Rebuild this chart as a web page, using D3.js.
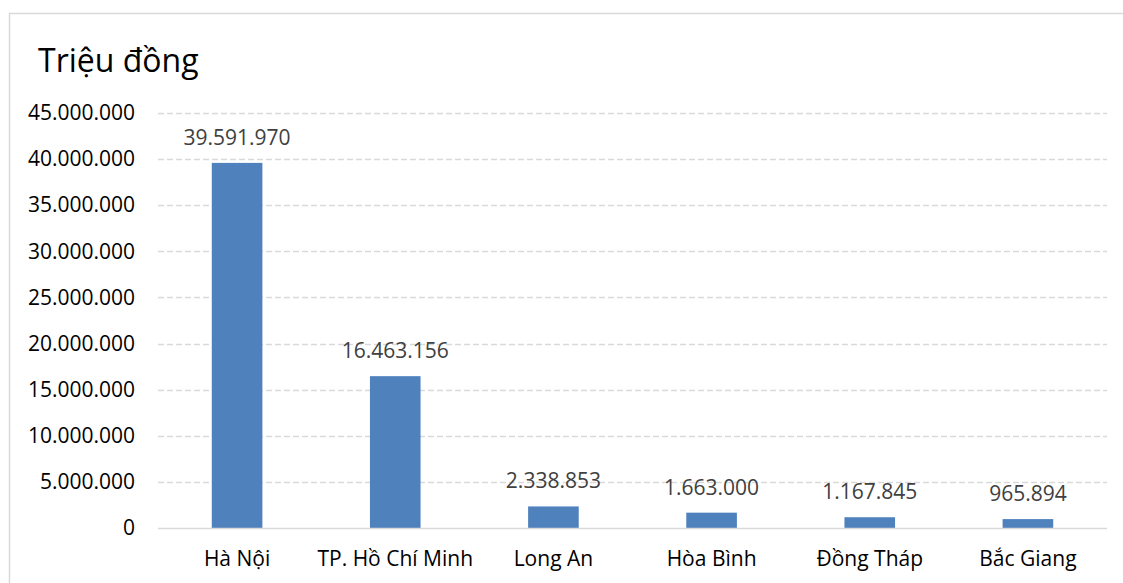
<!DOCTYPE html>
<html>
<head>
<meta charset="utf-8">
<script src="https://cdn.jsdelivr.net/npm/d3@7"></script>
<style>
  body { margin: 0; background: #fff; }
  text { font-family: "Open Sans", "Noto Sans", sans-serif; }
</style>
</head>
<body>
<div id="chart"></div>
<script>
// du lieu doc tu hinh
const provinces = ["Hà Nội", "TP. Hồ Chí Minh", "Long An", "Hòa Bình", "Đồng Tháp", "Bắc Giang"];
const amounts = [39591970, 16463156, 2338853, 1663000, 1167845, 965894];
const yTicks = [0, 5000000, 10000000, 15000000, 20000000, 25000000, 30000000, 35000000, 40000000, 45000000];
const unitTitle = "Triệu đồng";

const width = 1123,
  height = 583;
const margin = { left: 158, right: 16, top: 113, bottom: 55 };
const fs = 21;

const fmt = (v) => d3.format(",")(v).replace(/,/g, ".");

const svg = d3
  .select("#chart")
  .append("svg")
  .attr("width", width)
  .attr("height", height);

// khung ngoai
svg
  .append("rect")
  .attr("x", 9.5)
  .attr("y", 13.5)
  .attr("width", width)
  .attr("height", height)
  .attr("fill", "none")
  .attr("stroke", "#d9d9d9")
  .attr("stroke-width", 1.5);

const x = d3
  .scaleBand()
  .domain(provinces)
  .range([margin.left, width - margin.right])
  .paddingInner(0.68)
  .paddingOuter(0.34);

const y = d3
  .scaleLinear()
  .domain([0, 45000000])
  .range([height - margin.bottom, margin.top]);

// luoi ngang
svg
  .selectAll(".grid")
  .data(yTicks.filter((d) => d > 0))
  .enter()
  .append("line")
  .attr("class", "grid")
  .attr("x1", margin.left)
  .attr("x2", width - margin.right)
  .attr("y1", (d) => Math.round(y(d)) + 0.5)
  .attr("y2", (d) => Math.round(y(d)) + 0.5)
  .attr("stroke", "#d9d9d9")
  .attr("stroke-width", 1.3)
  .attr("stroke-dasharray", "6,3");

// truc y
const yAxis = svg
  .append("g")
  .attr("transform", `translate(${margin.left - 23},0)`)
  .call(d3.axisLeft(y).tickValues(yTicks).tickFormat(fmt).tickSize(0).tickPadding(0));
yAxis.select(".domain").remove();
yAxis
  .selectAll("text")
  .attr("font-size", fs)
  .attr("fill", "#000")
  .style("font-family", '"Open Sans", "Noto Sans", sans-serif');

// cot
svg
  .selectAll(".bar")
  .data(amounts)
  .enter()
  .append("rect")
  .attr("class", "bar")
  .attr("x", (d, i) => x(provinces[i]))
  .attr("y", (d) => y(d))
  .attr("width", x.bandwidth())
  .attr("height", (d) => y(0) - y(d))
  .attr("fill", "#4f81bd");

// truc 0
svg
  .append("line")
  .attr("x1", margin.left)
  .attr("x2", width - margin.right)
  .attr("y1", Math.round(y(0)) + 0.5)
  .attr("y2", Math.round(y(0)) + 0.5)
  .attr("stroke", "#d9d9d9")
  .attr("stroke-width", 1.5);

// nhan gia tri
svg
  .selectAll(".val")
  .data(amounts)
  .enter()
  .append("text")
  .attr("class", "val")
  .attr("x", (d, i) => x(provinces[i]) + x.bandwidth() / 2)
  .attr("y", (d) => y(d) - 18)
  .attr("text-anchor", "middle")
  .attr("font-size", fs)
  .attr("fill", "#404040")
  .text(fmt);

// truc x
svg
  .selectAll(".cat")
  .data(provinces)
  .enter()
  .append("text")
  .attr("class", "cat")
  .attr("x", (d) => x(d) + x.bandwidth() / 2)
  .attr("y", y(0) + 38)
  .attr("text-anchor", "middle")
  .attr("font-size", fs)
  .attr("fill", "#000")
  .text((d) => d);

// tieu de
svg
  .append("text")
  .attr("x", 38)
  .attr("y", 72)
  .attr("font-size", 32)
  .attr("fill", "#000")
  .text(unitTitle);
</script>
</body>
</html>
